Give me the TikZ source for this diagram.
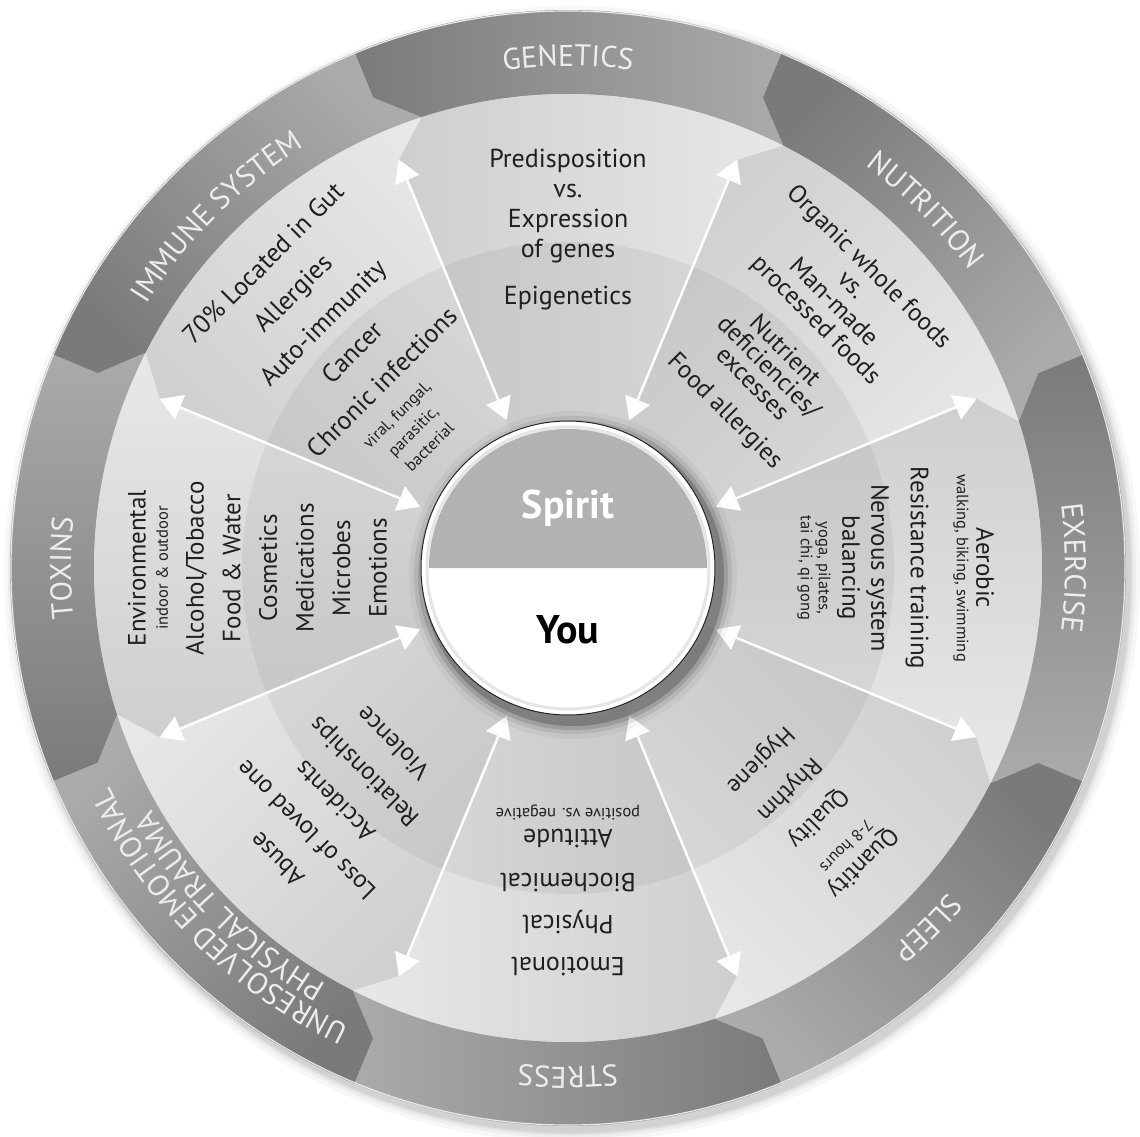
\documentclass[tikz,border=0pt]{standalone}
\usepackage{fontspec}
\setmainfont{PT Sans}
\usetikzlibrary{arrows.meta,decorations.text}

\definecolor{ringdark}{gray}{0.48}
\definecolor{ringlight}{gray}{0.67}
\definecolor{wedgedark}{gray}{0.81}
\definecolor{wedgelight}{gray}{0.91}
\definecolor{spiritgray}{gray}{0.70}
\definecolor{inkgray}{gray}{0.12}

\tikzset{
  item/.style={font=\fontsize{25}{30}\selectfont, text=inkgray, align=center, inner sep=0pt},
  note/.style={font=\fontsize{16.5}{18}\selectfont, text=inkgray, align=center, inner sep=0pt},
  link/.style={draw=white, line width=2.4pt, {Triangle[length=22pt,width=26pt]}-{Triangle[length=22pt,width=26pt]}},
}

% label set along the band: centre angle, baseline radius, text
\newcommand{\bandtext}[3]{%
  \pgfmathsetmacro\bs{#1+36}\pgfmathsetmacro\be{#1-36}%
  \path[decorate, decoration={text along path, text align=center, text color=white!93!black,
      text={|\fontsize{30}{30}\selectfont|#3}}]
    (\bs:#2) arc[start angle=\bs, end angle=\be, radius=#2];}

\begin{document}
\begin{tikzpicture}[x=1pt, y=1pt]
    \fill[white] (-568,-568) rectangle (572,568);
    \useasboundingbox (-568,-568) rectangle (572,568);

    % soft shadow under the wheel
    \foreach \r/\o in {568/0.03,564/0.04,561/0.05,559/0.06}
        \fill[black, opacity=\o] (4,-6) circle (\r);

    % outer band and wedges, one piece per topic
    \foreach \a in {22.5,67.5,...,337.5}{
        \pgfmathsetmacro\b{\a+45}
        \pgfmathsetmacro\m{\a+22.5}
        \pgfmathsetmacro\ai{\a-4.5}
        \pgfmathsetmacro\bi{\b-4.5}
        \shade[top color=ringdark, bottom color=ringlight, shading angle=\m]
            (\a:558) arc[start angle=\a, end angle=\b, radius=558]
            -- (\b:509) -- (\bi:474)
            arc[start angle=\bi, end angle=\ai, radius=474]
            -- (\a:509) -- cycle;
        \shade[top color=wedgedark, bottom color=wedgelight, shading angle=\m]
            (\a:150) -- (\a:442) -- (\ai:474)
            arc[start angle=\ai, end angle=\bi, radius=474]
            -- (\b:442) -- (\b:150)
            arc[start angle=\b, end angle=\a, radius=150] -- cycle;
    }
    \draw[white!82!gray, line width=1.2pt] (0,0) circle (557);
    \fill[black, opacity=0.05, even odd rule] (0,0) circle (326) (0,0) circle (150);

    % arrows between the wedges
    \foreach \a [count=\k] in {22.5,67.5,...,337.5}{
        \coordinate (foot\k) at (\a:160);
        \coordinate (tip\k) at (\a:442);
        \draw[link] (foot\k) -- (tip\k);
    }

    % centre disc
    \foreach \r/\o in {164/0.04,159/0.08,155/0.13,151/0.2}
        \fill[black, opacity=\o] (5,-7) circle (\r);
    \node[circle, draw=black!85, line width=1pt, fill=white, minimum size=294pt, inner sep=0pt] (rim) at (0,0) {};
    \draw[black!10, line width=3pt] (rim.center) circle (141);
    \fill[spiritgray] (-139,0) arc[start angle=180, end angle=0, radius=139] -- cycle;
    \node[font=\bfseries\fontsize{40}{40}\selectfont, text=white] (spirit) at (0,60) {Spirit};
    \node[font=\bfseries\fontsize{40}{40}\selectfont, text=black] (you) at (0,-62) {You};

    % band labels
    \bandtext{90}{502}{GENETICS}
    \bandtext{45}{500}{NUTRITION}
    \bandtext{0}{497}{EXERCISE}
    \bandtext{-45}{500}{SLEEP}
    \bandtext{-90}{499}{STRESS}
    \bandtext{-135}{508}{UNRESOLVED EMOTIONAL}
    \bandtext{-135}{481}{PHYSICAL TRAUMA}
    \bandtext{180}{497}{TOXINS}
    \bandtext{135}{497}{IMMUNE SYSTEM}

    % genetics
    \node[item, font=\fontsize{26}{30}\selectfont] (genes) at (90:362) {Predisposition\\vs.\\Expression\\of genes};
    \node[item, font=\fontsize{26}{30}\selectfont] (epigen) at (90:270) {Epigenetics};

    % nutrition
    \node[item, rotate=-45, font=\fontsize{25}{25}\selectfont] (foods) at (45:387) {Organic whole foods\\vs.\\Man-made\\processed foods};
    \node[item, rotate=-45, font=\fontsize{25}{23}\selectfont] (nutrient) at (45:285) {Nutrient\\deficiencies/\\excesses};
    \node[item, rotate=-45] (foodallerg) at (45:221) {Food allergies};

    % exercise
    \node[item, rotate=-90] (aerobic) at (0:417) {Aerobic};
    \node[note, rotate=-90] (aerobicnote) at (0:393) {walking, biking, swimming};
    \node[item, rotate=-90] (resist) at (0:349) {Resistance training};
    \node[item, rotate=-90, font=\fontsize{25}{29}\selectfont] (nervous) at (0:295) {Nervous system\\balancing};
    \node[note, rotate=-90] (yoga) at (0:246) {yoga, pilates,\\tai chi, qi gong};

    % sleep
    \node[item, rotate=225, font=\fontsize{24}{30}\selectfont] (quantity) at (-45:416) {Quantity};
    \node[note, rotate=225] (hours) at (-45:394) {7-8 hours};
    \node[item, rotate=225, font=\fontsize{24}{41}\selectfont] (rest) at (-45:312) {Quality\\Rhythm\\Hygiene};

    % stress
    \node[item, rotate=180, font=\fontsize{26}{42}\selectfont] (stressors) at (-90:357) {Emotional\\Physical\\Biochemical};
    \node[item, rotate=180, font=\fontsize{26}{30}\selectfont] (attitude) at (-90:271) {Attitude};
    \node[note, rotate=180] (attnote) at (-90:245) {positive vs. negative};

    % trauma
    \node[item, rotate=135, font=\fontsize{25}{41}\selectfont] (traumas) at (-135:330) {Abuse\\Loss of loved one\\Accidents\\Relationships\\Violence};

    % toxins
    \node[item, rotate=90] (environ) at (180:431) {Environmental};
    \node[note, rotate=90] (environnote) at (180:406) {indoor \& outdoor};
    \node[item, rotate=90, font=\fontsize{25}{36.6}\selectfont] (toxinlist) at (180:281.5) {Alcohol/Tobacco\\Food \& Water\\Cosmetics\\Medications\\Microbes\\Emotions};

    % immune system
    \node[item, rotate=45, font=\fontsize{26}{42}\selectfont] (immunity) at (135:347) {70\% Located in Gut\\Allergies\\Auto-immunity\\Cancer\\Chronic infections};
    \node[note, rotate=45, font=\fontsize{16.5}{23}\selectfont] (infnote) at (138.5:207) {viral, fungal,\\parasitic,\\bacterial};
\end{tikzpicture}
\end{document}
